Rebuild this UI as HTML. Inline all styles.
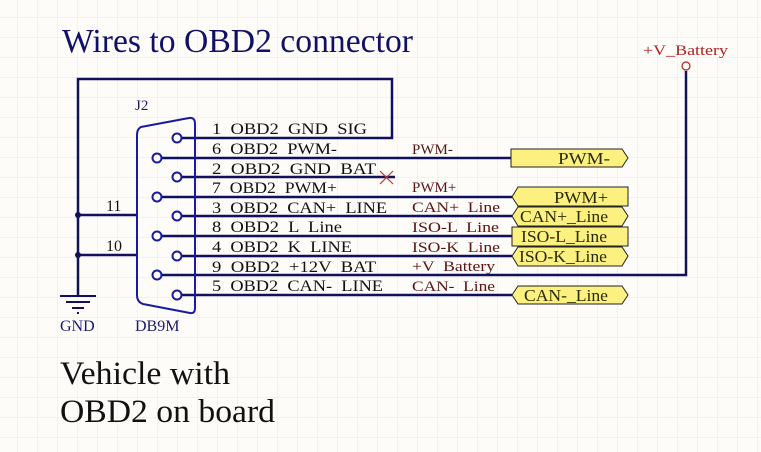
<!DOCTYPE html>
<html><head><meta charset="utf-8"><style>
html,body{margin:0;padding:0;background:#fdfcf8;}
svg{display:block;}
text{white-space:pre;}
</style></head><body>
<svg width="761" height="452" viewBox="0 0 761 452" xmlns="http://www.w3.org/2000/svg" font-family="'Liberation Serif', serif" xml:space="preserve">
<defs>
<pattern id="g" width="20" height="20" patternUnits="userSpaceOnUse" x="-2" y="-2">
<path d="M20 0V20M0 20H20" stroke="#ece8e0" stroke-width="1" fill="none"/>
</pattern>
</defs>
<rect width="761" height="452" fill="#fdfcf8"/>
<rect width="761" height="452" fill="url(#g)"/>

<text x="62" y="52" font-size="33.5" fill="#10106a" textLength="351" lengthAdjust="spacingAndGlyphs">Wires to OBD2 connector</text>
<text x="60" y="384" font-size="33" fill="#111" textLength="170" lengthAdjust="spacingAndGlyphs">Vehicle with</text>
<text x="60" y="422" font-size="33" fill="#111" textLength="215" lengthAdjust="spacingAndGlyphs">OBD2 on board</text>

<g stroke="#10105e" stroke-width="2.5" fill="none">
<polyline points="181,138 392,138 392,79 78,79 78,295"/>
<line x1="78" y1="215" x2="137" y2="215"/>
<line x1="78" y1="255" x2="137" y2="255"/>
<line x1="161" y1="158" x2="511" y2="158"/>
<line x1="181" y1="177" x2="395" y2="177"/>
<line x1="161" y1="197" x2="512" y2="197"/>
<line x1="181" y1="216" x2="512" y2="216"/>
<line x1="161" y1="236" x2="512" y2="236"/>
<line x1="181" y1="256" x2="512" y2="256"/>
<polyline points="161,275 686,275 686,71"/>
<line x1="181" y1="295" x2="512" y2="295"/>
</g>
<circle cx="78" cy="215" r="3" fill="#10105e"/>
<circle cx="78" cy="255" r="3" fill="#10105e"/>
<g stroke="#10105e" stroke-width="2">
<line x1="60" y1="296" x2="96" y2="296"/>
<line x1="66" y1="302" x2="90" y2="302"/>
<line x1="72" y1="308" x2="84" y2="308"/>
<line x1="77" y1="313" x2="79" y2="313"/>
</g>
<text x="60" y="331" font-size="16" fill="#1a1a70">GND</text>

<path d="M141,127 Q137,129 137,135 L137,295 Q137,302 143,304 L190,313 Q195,314 195,308 L195,124 Q195,117 189,118 Z" stroke="#1a1aa0" stroke-width="2" fill="none"/>
<g stroke="#1a1aa0" stroke-width="2" fill="#fdfcf8">
<circle cx="177" cy="138" r="4.5"/>
<circle cx="157" cy="158" r="4.5"/>
<circle cx="177" cy="177" r="4.5"/>
<circle cx="157" cy="197" r="4.5"/>
<circle cx="177" cy="216" r="4.5"/>
<circle cx="157" cy="236" r="4.5"/>
<circle cx="177" cy="256" r="4.5"/>
<circle cx="157" cy="275" r="4.5"/>
<circle cx="177" cy="295" r="4.5"/>
</g>
<text x="135" y="110" font-size="15" fill="#1a1a70">J2</text>
<text x="135" y="331" font-size="16" fill="#1a1a70">DB9M</text>
<text x="106" y="211" font-size="16" fill="#111">11</text>
<text x="106" y="251" font-size="16" fill="#111">10</text>

<g font-size="16" fill="#111">
<text x="212" y="134" textLength="155" lengthAdjust="spacingAndGlyphs">1  OBD2  GND  SIG</text>
<text x="212" y="154" textLength="125" lengthAdjust="spacingAndGlyphs">6  OBD2  PWM-</text>
<text x="212" y="174" textLength="164" lengthAdjust="spacingAndGlyphs">2  OBD2  GND  BAT</text>
<text x="212" y="193" textLength="125" lengthAdjust="spacingAndGlyphs">7  OBD2  PWM+</text>
<text x="212" y="213" textLength="175" lengthAdjust="spacingAndGlyphs">3  OBD2  CAN+  LINE</text>
<text x="212" y="232" textLength="130" lengthAdjust="spacingAndGlyphs">8  OBD2  L  Line</text>
<text x="212" y="252" textLength="140" lengthAdjust="spacingAndGlyphs">4  OBD2  K  LINE</text>
<text x="212" y="272" textLength="164" lengthAdjust="spacingAndGlyphs">9  OBD2  +12V  BAT</text>
<text x="212" y="291" textLength="171" lengthAdjust="spacingAndGlyphs">5  OBD2  CAN-  LINE</text>
</g>
<g font-size="15" fill="#5a1414">
<text x="412" y="154">PWM-</text>
<text x="412" y="192">PWM+</text>
<text x="412" y="212" textLength="88" lengthAdjust="spacingAndGlyphs">CAN+  Line</text>
<text x="412" y="232" textLength="87" lengthAdjust="spacingAndGlyphs">ISO-L  Line</text>
<text x="412" y="252" textLength="88" lengthAdjust="spacingAndGlyphs">ISO-K  Line</text>
<text x="412" y="271" textLength="83" lengthAdjust="spacingAndGlyphs">+V  Battery</text>
<text x="412" y="291" textLength="83" lengthAdjust="spacingAndGlyphs">CAN-  Line</text>
</g>
<g stroke="#d03030" stroke-width="1.2">
<line x1="380" y1="171" x2="393" y2="184"/>
<line x1="393" y1="171" x2="380" y2="184"/>
</g>

<g fill="#fcf080" stroke="#222" stroke-width="1">
<polygon points="511,149 622,149 628,158 622,167 511,167"/>
<polygon points="518,187 628,187 628,206 518,206 512,197"/>
<polygon points="518,207 622,207 628,216 622,226 518,226 512,216"/>
<polygon points="512,227 628,227 628,246 512,246"/>
<polygon points="518,247 622,247 628,256 622,266 518,266 512,256"/>
<polygon points="518,286 622,286 628,295 622,304 518,304 512,295"/>
</g>
<g font-size="17" fill="#2a2a00">
<text x="558" y="164" textLength="52" lengthAdjust="spacingAndGlyphs">PWM-</text>
<text x="554" y="203" textLength="54" lengthAdjust="spacingAndGlyphs">PWM+</text>
<text x="520" y="222" textLength="88" lengthAdjust="spacingAndGlyphs">CAN+_Line</text>
<text x="521" y="242" textLength="86" lengthAdjust="spacingAndGlyphs">ISO-L_Line</text>
<text x="519" y="262" textLength="88" lengthAdjust="spacingAndGlyphs">ISO-K_Line</text>
<text x="524" y="301" textLength="84" lengthAdjust="spacingAndGlyphs">CAN-_Line</text>
</g>

<text x="643" y="55" font-size="15" fill="#b02020" textLength="85" lengthAdjust="spacingAndGlyphs">+V_Battery</text>
<circle cx="686" cy="66" r="4" stroke="#b02020" stroke-width="1.2" fill="#fdfcf8"/>
</svg>
</body></html>
